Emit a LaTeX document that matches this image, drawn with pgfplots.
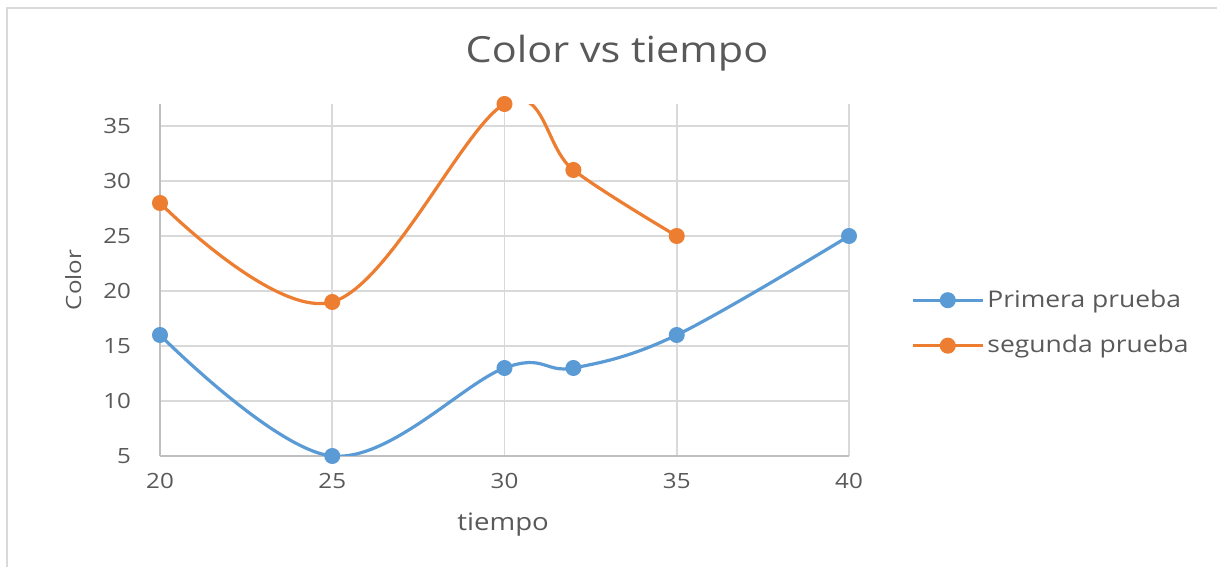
\documentclass[border=0pt]{standalone}
\usepackage{pgfplots}
\pgfplotsset{compat=1.18}
\usepackage{fontspec}
\setmainfont{Open Sans}[FakeStretch=1.15]
\definecolor{serieA}{HTML}{5B9BD5}
\definecolor{serieB}{HTML}{ED7D31}
\definecolor{txt}{HTML}{595959}
\definecolor{gridc}{HTML}{D9D9D9}
\definecolor{axisc}{HTML}{BFBFBF}
\begin{document}
\begin{tikzpicture}
\useasboundingbox (0pt,0pt) rectangle (608.5pt,283.5pt);
% chart frame
\draw[color=gridc, line width=1.2pt] (3.5pt,0pt) -- (3.5pt,279.5pt) -- (608.5pt,279.5pt);
% title
\node[txt, font=\fontsize{18}{21}\selectfont] at (308.5pt,257pt) {Color vs tiempo};
\begin{axis}[
  at={(80pt,55.5pt)}, anchor=south west,
  scale only axis, width=344.5pt, height=176pt,
  xmin=20, xmax=40, ymin=5, ymax=37,
  xtick={20,25,...,40}, ytick={5,10,...,35},
  grid=major, major grid style={color=gridc, line width=0.8pt},
  axis x line*=bottom, axis y line*=left,
  x axis line style={-, color=axisc, line width=0.8pt},
  y axis line style={-, color=axisc, line width=0.8pt},
  major tick length=0pt,
  tick label style={txt, font=\fontsize{10.5}{12}\selectfont},
  /pgf/number format/assume math mode=true,
  yticklabel style={xshift=-11pt},
  xticklabel style={yshift=-5pt},
  xlabel={tiempo}, ylabel={Color},
  label style={txt, font=\fontsize{10.5}{12}\selectfont},
  xlabel style={at={(axis description cs:0.498,0)}, anchor=center, yshift=-34.5pt,
    font=\fontsize{12}{14}\selectfont},
  ylabel style={at={(axis description cs:-0.126,0.5)}, anchor=center},
  legend style={at={(axis description cs:1.081,0.378)}, anchor=west, draw=none, fill=none,
    font=\fontsize{11.5}{13}\selectfont, text=txt, row sep=9.5pt,
    nodes={inner sep=1.5pt}},
  legend cell align=left,
  legend image code/.code={\draw[mark repeat=2, mark phase=2, #1] plot coordinates {(0pt,0pt) (17.5pt,0pt) (35pt,0pt)};},
]
\addplot[serieA, line width=1.6pt, smooth, tension=0.6, mark=*, mark size=3.2pt, mark options={solid, fill=serieA, draw=serieA}]
  coordinates {(20,16) (25,5) (30,13) (32,13) (35,16) (40,25)};
\addlegendentry{Primera prueba}
\addplot[serieB, line width=1.6pt, smooth, tension=0.6, mark=*, mark size=3.2pt, mark options={solid, fill=serieB, draw=serieB}]
  coordinates {(20,28) (25,19) (30,37) (32,31) (35,25)};
\addlegendentry{segunda prueba}
\end{axis}
\end{tikzpicture}
\end{document}
